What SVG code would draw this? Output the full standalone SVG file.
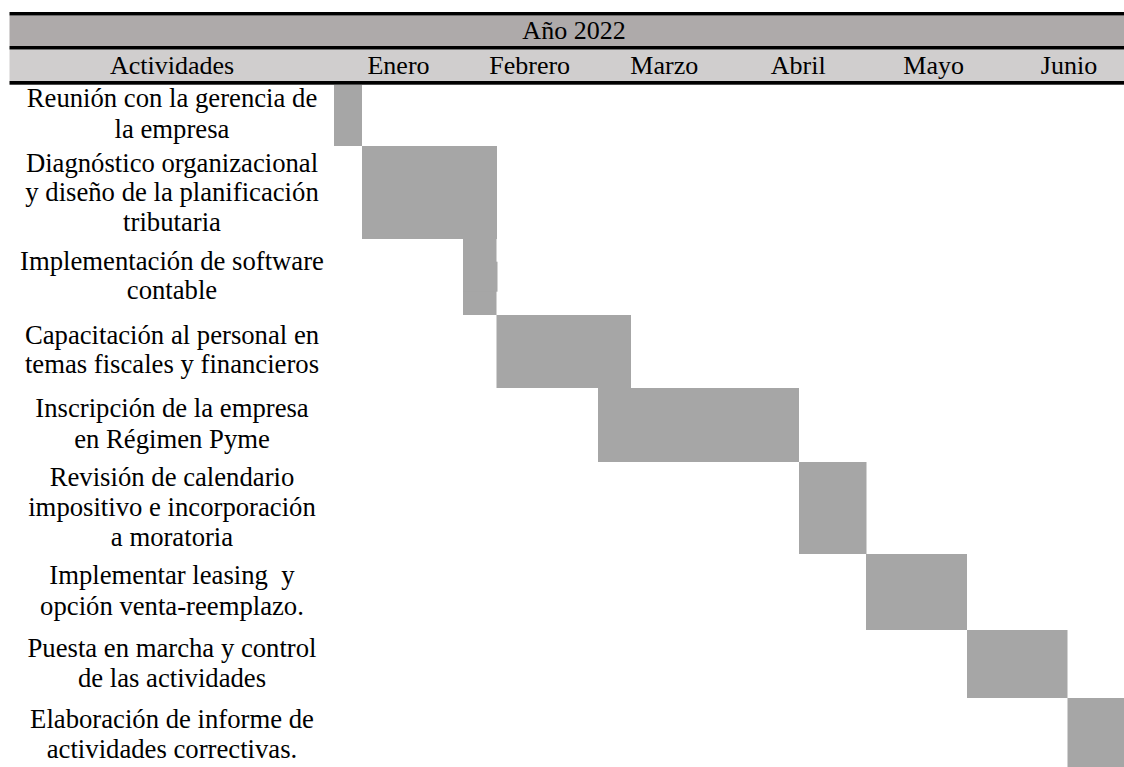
<svg xmlns="http://www.w3.org/2000/svg" width="1124" height="767" viewBox="0 0 1124 767" font-family="'Liberation Serif', 'Times New Roman', serif">
<style>
text{font-family:"Liberation Serif","Times New Roman",serif;fill:#000;}
.h{font-size:26px;text-anchor:middle;}
.l{font-size:26.7px;text-anchor:middle;}
.bar{fill:#A6A6A6;}
.rule{fill:#000;}
</style>
<rect x="0" y="0" width="1124" height="767" fill="#FFFFFF"/>
<g id="header">
<rect x="9.5" y="15.5" width="1114.5" height="30.5" fill="#AEAAAA"/>
<rect x="9.5" y="49.5" width="1114.5" height="31.5" fill="#D0CECE"/>
<rect class="rule" x="9.5" y="12" width="1114.5" height="3.5"/>
<rect class="rule" x="9.5" y="46" width="1114.5" height="3.5"/>
<rect class="rule" x="9.5" y="81" width="1114.5" height="3.7"/>
<text class="h" x="574" y="38.5">Año 2022</text>
<text class="h" x="172" y="73.5">Actividades</text>
<text class="h" x="398.5" y="73.5">Enero</text>
<text class="h" x="529.7" y="73.5">Febrero</text>
<text class="h" x="664.3" y="73.5">Marzo</text>
<text class="h" x="798.3" y="73.5">Abril</text>
<text class="h" x="933.7" y="73.5">Mayo</text>
<text class="h" x="1069" y="73.5">Junio</text>
</g>
<g id="row1">
<rect class="bar" x="334" y="85" width="28" height="61"/>
<text class="l" x="172" y="107.3" font-family="Liberation Serif, serif">Reunión con la gerencia de</text>
<text class="l" x="172" y="137.7" font-family="Liberation Serif, serif">la empresa</text>
</g>
<g id="row2">
<rect class="bar" x="362" y="146" width="135" height="93"/>
<text class="l" x="172" y="171.7" font-family="Liberation Serif, serif">Diagnóstico organizacional</text>
<text class="l" x="172" y="201" font-family="Liberation Serif, serif">y diseño de la planificación</text>
<text class="l" x="172" y="230.7" font-family="Liberation Serif, serif">tributaria</text>
</g>
<g id="row3">
<rect class="bar" x="463" y="239" width="33.5" height="76"/>
<rect class="bar" x="463" y="261.7" width="34.5" height="30"/>
<text class="l" x="172" y="270" font-family="Liberation Serif, serif">Implementación de software</text>
<text class="l" x="172" y="299.3" font-family="Liberation Serif, serif">contable</text>
</g>
<g id="row4">
<rect class="bar" x="496.5" y="315" width="134.5" height="73"/>
<text class="l" x="172" y="344" font-family="Liberation Serif, serif">Capacitación al personal en</text>
<text class="l" x="172" y="373.3" font-family="Liberation Serif, serif">temas fiscales y financieros</text>
</g>
<g id="row5">
<rect class="bar" x="598" y="388" width="201" height="74"/>
<text class="l" x="172" y="417.3" font-family="Liberation Serif, serif">Inscripción de la empresa</text>
<text class="l" x="172" y="448.3" font-family="Liberation Serif, serif">en Régimen Pyme</text>
</g>
<g id="row6">
<rect class="bar" x="799" y="462" width="67.5" height="92"/>
<text class="l" x="172" y="486" font-family="Liberation Serif, serif">Revisión de calendario</text>
<text class="l" x="172" y="516" font-family="Liberation Serif, serif">impositivo e incorporación</text>
<text class="l" x="172" y="546" font-family="Liberation Serif, serif">a moratoria</text>
</g>
<g id="row7">
<rect class="bar" x="866" y="554" width="101" height="76"/>
<text class="l" x="172" y="584" font-family="Liberation Serif, serif" style="white-space:pre">Implementar leasing  y</text>
<text class="l" x="172" y="615" font-family="Liberation Serif, serif">opción venta-reemplazo.</text>
</g>
<g id="row8">
<rect class="bar" x="967" y="630" width="100.5" height="68"/>
<text class="l" x="172" y="656.7" font-family="Liberation Serif, serif">Puesta en marcha y control</text>
<text class="l" x="172" y="686.7" font-family="Liberation Serif, serif">de las actividades</text>
</g>
<g id="row9">
<rect class="bar" x="1067.5" y="698" width="56.5" height="69"/>
<text class="l" x="172" y="728.3" font-family="Liberation Serif, serif">Elaboración de informe de</text>
<text class="l" x="172" y="758.3" font-family="Liberation Serif, serif">actividades correctivas.</text>
</g>
</svg>
